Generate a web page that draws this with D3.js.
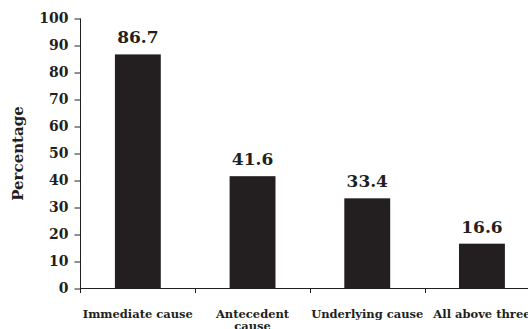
<!DOCTYPE html>
<html>
<head>
<meta charset="utf-8">
<script src="https://cdn.jsdelivr.net/npm/d3@7"></script>
<style>
  html, body { margin: 0; padding: 0; background: #fff; overflow: hidden; }
  svg { display: block; }
  text { font-family: "DejaVu Serif", "Liberation Serif", serif; font-weight: bold; fill: #231f20; }
</style>
</head>
<body>
<svg id="chart" width="528" height="329"></svg>
<script>
// Share of deaths by cause category
const categories = ["Immediate cause", "Antecedent cause", "Underlying cause", "All above three"];
const tickLabels = ["Immediate cause", "Antecedent\ncause", "Underlying cause", "All above three"];
const values = [86.7, 41.6, 33.4, 16.6];
const yTicks = [0, 10, 20, 30, 40, 50, 60, 70, 80, 90, 100];

const ink = "#231f20";
const svg = d3.select("#chart");

const plotLeft = 80.5, plotTop = 18.5, plotBottom = 288.5;
const step = 114.7;

const x = d3.scaleBand()
  .domain(categories)
  .range([plotLeft, plotLeft + step * categories.length])
  .paddingInner(0.6)
  .paddingOuter(0.3);

const y = d3.scaleLinear().domain([0, 100]).range([plotBottom, plotTop]);

// Y axis
const yAxis = svg.append("g")
  .attr("transform", `translate(${plotLeft},0)`)
  .call(d3.axisLeft(y).tickValues(yTicks).tickSize(6).tickPadding(6).tickSizeOuter(0));
yAxis.select(".domain").attr("stroke", ink).attr("d", `M0,${plotTop}V${plotBottom + 4.5}`);
yAxis.selectAll(".tick line").attr("stroke", ink);
yAxis.selectAll(".tick text")
  .style("font-size", "14px")
  .attr("fill", ink);

// Axis title
svg.append("text")
  .attr("transform", `translate(23,${(plotTop + plotBottom) / 2}) rotate(-90)`)
  .attr("text-anchor", "middle")
  .style("font-size", "15px")
  .text("Percentage");

// Bars
svg.append("g").selectAll("rect")
  .data(values)
  .join("rect")
  .attr("x", (d, i) => x(categories[i]))
  .attr("width", x.bandwidth())
  .attr("y", d => y(d))
  .attr("height", d => y(0) - y(d))
  .attr("fill", ink);

// Value labels
svg.append("g").selectAll("text")
  .data(values)
  .join("text")
  .attr("x", (d, i) => x(categories[i]) + x.bandwidth() / 2)
  .attr("y", d => y(d) - 11)
  .attr("text-anchor", "middle")
  .style("font-size", "17px")
  .text(d => d.toFixed(1));

// X axis: baseline with ticks between categories
const xAxis = svg.append("g").attr("transform", `translate(0,${plotBottom})`);
xAxis.append("line")
  .attr("x1", plotLeft).attr("x2", x.range()[1])
  .attr("stroke", ink);
xAxis.selectAll(".sep")
  .data(d3.range(1, categories.length + 1))
  .join("line")
  .attr("class", "sep")
  .attr("x1", i => Math.round(plotLeft + i * x.step()) + 0.5)
  .attr("x2", i => Math.round(plotLeft + i * x.step()) + 0.5)
  .attr("y1", 0).attr("y2", 4.5)
  .attr("stroke", ink);

const lbl = xAxis.selectAll(".cat")
  .data(categories)
  .join("text")
  .attr("class", "cat")
  .attr("text-anchor", "middle")
  .attr("y", 29)
  .style("font-size", "11.5px");
lbl.each(function(d, i) {
  const cx = x(d) + x.bandwidth() / 2;
  tickLabels[i].split("\n").forEach((line, k) => {
    d3.select(this).append("tspan")
      .attr("x", cx)
      .attr("dy", k === 0 ? 0 : 12.5)
      .text(line);
  });
});
</script>
</body>
</html>
